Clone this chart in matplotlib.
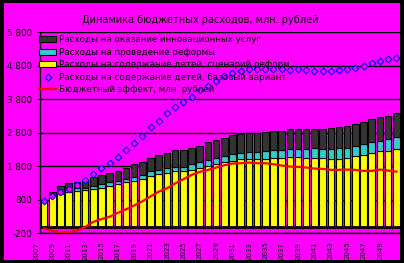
import matplotlib
matplotlib.use('Agg')
import matplotlib.pyplot as plt
import matplotlib.transforms as mtransforms
from matplotlib.patches import Rectangle
import numpy as np

# categories
years = list(range(2007, 2051))

# stacked bars, mln rub
children_reform = [760, 900, 980, 1025, 1050, 1085, 1120, 1160, 1215, 1275, 1334, 1364, 1414, 1513,
                   1564, 1613, 1652, 1652, 1682, 1742, 1802, 1862, 1921, 1951, 2011, 2011, 2011, 2011,
                   2041, 2041, 2080, 2080, 2041, 2041, 2041, 2011, 2011, 2051, 2101, 2141, 2190, 2250,
                   2250, 2310]
reform_costs = [0, 30, 40, 75, 90, 75, 80, 110, 120, 90, 90, 130, 120, 150, 130, 130, 140, 140, 180,
                180, 180, 180, 180, 220, 180, 210, 230, 240, 240, 240, 230, 230, 270, 300, 270, 300,
                330, 290, 300, 320, 330, 320, 360, 360]
innov_services = [0, 105, 195, 195, 195, 200, 280, 275, 260, 290, 320, 380, 400, 380, 445, 450, 500,
                  500, 490, 490, 540, 550, 540, 560, 580, 570, 550, 570, 560, 570, 600, 600, 600, 570,
                  605, 625, 625, 650, 655, 655, 685, 695, 695, 715]

# lines
children_base = [770, 920, 1030, 1120, 1230, 1385, 1560, 1743, 1905, 2090, 2285, 2505, 2710, 2966,
                 3164, 3385, 3582, 3730, 3880, 4080, 4210, 4355, 4485, 4597, 4657, 4700, 4700, 4708,
                 4708, 4698, 4678, 4717, 4678, 4657, 4657, 4657, 4678, 4698, 4747, 4796, 4896, 4946,
                 4996, 5040]
budget_effect = [-55, -135, -168, -175, -120, -15, 140, 225, 295, 410, 515, 630, 755, 900, 1045, 1143,
                 1290, 1414, 1543, 1633, 1692, 1761, 1832, 1881, 1892, 1911, 1892, 1892, 1862, 1822,
                 1792, 1782, 1762, 1732, 1722, 1693, 1693, 1702, 1693, 1663, 1663, 1702, 1673, 1642]

yticks = [-200, 800, 1800, 2800, 3800, 4800, 5800]

title = 'Динамика бюджетных расходов, млн. рублей'
labels = ['Расходы на оказание инновационных услуг',
          'Расходы на проведение реформы',
          'Расходы на содержание детей, сценарий реформ',
          'Расходы на содержание детей, базовый вариант',
          'Бюджетный эффект, млн. рублей']

W, H = 404, 263
fig = plt.figure(figsize=(W / 100, H / 100), dpi=100, facecolor='black')
fig.patches.append(Rectangle((4 / W, 3 / H), 396 / W, 257 / H, transform=fig.transFigure,
                             facecolor='#FF00FF', edgecolor='none', zorder=-1))

ax = fig.add_axes([40 / W, (H - 233.3) / H, 360.4 / W, 201 / H])
ax.patch.set_visible(False)

x = np.arange(len(years))
yel = np.array(children_reform)
tea = np.array(reform_costs)
drk = np.array(innov_services)

b1 = ax.bar(x, yel, width=0.8, color='#FFFF00', edgecolor='black', lw=0.8)
b2 = ax.bar(x, tea, width=0.8, bottom=yel, color='#33CCCC', edgecolor='black', lw=0.8)
b3 = ax.bar(x, drk, width=0.8, bottom=yel + tea, color='#333333', edgecolor='black', lw=0.8)
ax.axhline(0, color='black', lw=2, zorder=2.5)
# small category ticks hanging under the zero line
ax.vlines(np.arange(len(x) + 1) - 0.5, -70, 0, color='black', lw=0.8, zorder=2.5)
l1, = ax.plot(x, children_base, ls='none', marker='D', ms=3.4, mfc='#FF00FF', mec='#0000FF', mew=0.8,
              zorder=4)
l2, = ax.plot(x, budget_effect, color='#FF0000', lw=1.6, zorder=3)

ax.set_xlim(-0.5, len(x) - 0.5)
ax.set_ylim(yticks[0], yticks[-1])
ax.set_yticks(yticks)
ax.set_yticklabels(['{:,}'.format(v).replace(',', ' ') for v in yticks], fontsize=6.3)
ax.grid(axis='y', color='black', lw=1)
ax.set_axisbelow(True)
ax.tick_params(axis='y', length=2.5, width=0.8, pad=3)

ax.set_xticks(x[::2])
ax.set_xticklabels([str(y) for y in years[::2]], rotation=90, fontsize=5)
ax.tick_params(axis='x', length=0, pad=6)
shift = mtransforms.ScaledTranslation(-8 / 100, 0, fig.dpi_scale_trans)
for lab in ax.get_xticklabels():
    lab.set_transform(lab.get_transform() + shift)

for s in ['top', 'right']:
    ax.spines[s].set_visible(False)
ax.spines['left'].set_linewidth(1)
ax.spines['bottom'].set_linewidth(1)

fig.text(200 / W, 1 - 20 / H, title, ha='center', va='center', fontsize=7)

ax.legend([b3, b2, b1, l1, l2], labels, loc='upper left', bbox_to_anchor=(-0.003, 0.985),
          frameon=False, fontsize=6.3, handlelength=2.0, handletextpad=0.35, labelspacing=0.4,
          borderaxespad=0, borderpad=0)

fig.savefig('out.png', dpi=100, facecolor='black')
